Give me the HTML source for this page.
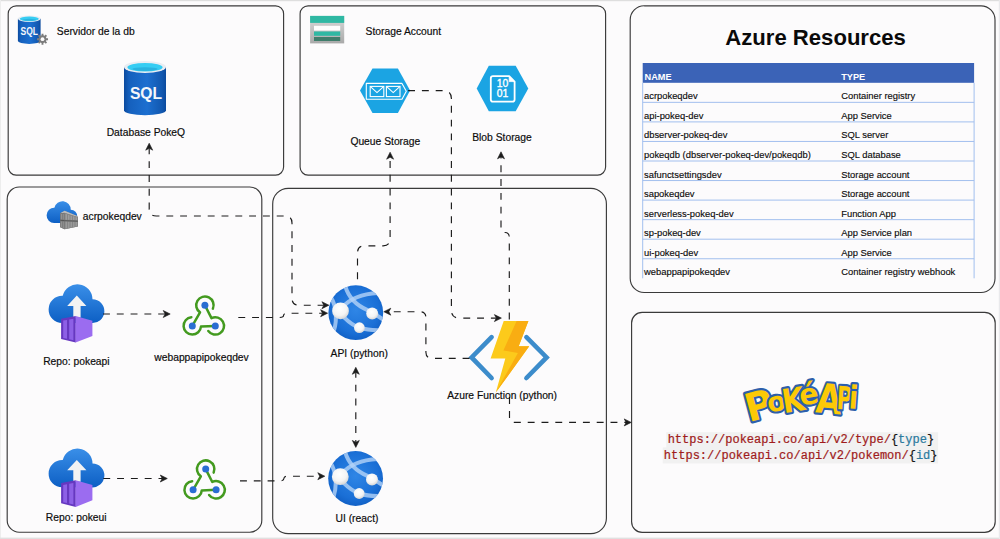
<!DOCTYPE html>
<html lang="es"><head><meta charset="utf-8"><title>PokeQ - Azure Resources</title>
<style>
html,body{margin:0;padding:0;background:#fcfbfc;}
body{width:1000px;height:539px;overflow:hidden;position:relative;}
svg{position:absolute;left:0;top:0;display:block;font-family:"Liberation Sans", sans-serif;}
.mono{font-family:"Liberation Mono", "DejaVu Sans Mono", monospace;}
</style></head><body>
<svg width="1000" height="539" viewBox="0 0 1000 539">
<defs>
<linearGradient id="gSql" x1="0" y1="0" x2="1" y2="0"><stop offset="0" stop-color="#0b4a9e"/><stop offset="0.12" stop-color="#1560bd"/><stop offset="0.55" stop-color="#1c6fd0"/><stop offset="0.9" stop-color="#1258b0"/><stop offset="1" stop-color="#0b4a9e"/></linearGradient>
<linearGradient id="gCloud" x1="0" y1="0" x2="0" y2="1"><stop offset="0" stop-color="#3a8fe8"/><stop offset="1" stop-color="#0d5fc4"/></linearGradient>
<radialGradient id="gGlobe" cx="0.5" cy="0.45" r="0.6"><stop offset="0" stop-color="#2f86e6"/><stop offset="0.7" stop-color="#1a6fd6"/><stop offset="1" stop-color="#0f5cc0"/></radialGradient>
<radialGradient id="gBall" cx="0.45" cy="0.35" r="0.7"><stop offset="0" stop-color="#ffffff"/><stop offset="0.6" stop-color="#f4f4f4"/><stop offset="1" stop-color="#cfcfcf"/></radialGradient>
<linearGradient id="gStore" x1="0" y1="0" x2="0" y2="1"><stop offset="0" stop-color="#d9d9d9"/><stop offset="1" stop-color="#a9a9a9"/></linearGradient>
<linearGradient id="gBolt" x1="0" y1="0" x2="0" y2="1"><stop offset="0" stop-color="#fdd31d"/><stop offset="1" stop-color="#fbb814"/></linearGradient>
</defs>
<rect x="0" y="0" width="1000" height="539" fill="#fcfbfc"/>
<rect x="0" y="0" width="1000" height="1.2" fill="#dedede"/>
<rect x="0" y="0" width="1" height="539" fill="#ededed"/>
<rect x="0" y="537.6" width="1000" height="1.4" fill="#e0e0e0"/>
<rect x="998.8" y="0" width="1.2" height="539" fill="#e9e9ec"/>
<rect x="8.2" y="5.8" width="275.40" height="169.30" rx="8" ry="8" fill="none" stroke="#3a3a3a" stroke-width="1.15"/>
<rect x="300.1" y="5.8" width="305.50" height="169.30" rx="8" ry="8" fill="none" stroke="#3a3a3a" stroke-width="1.15"/>
<rect x="630.2" y="5.8" width="364.80" height="286.70" rx="14" ry="14" fill="none" stroke="#3a3a3a" stroke-width="1.15"/>
<rect x="7.2" y="187.0" width="254.60" height="345.20" rx="12" ry="12" fill="none" stroke="#3a3a3a" stroke-width="1.15"/>
<rect x="272.7" y="188.4" width="333.70" height="345.30" rx="15.5" ry="15.5" fill="none" stroke="#3a3a3a" stroke-width="1.15"/>
<rect x="631.6" y="312.4" width="363.60" height="219.90" rx="10.5" ry="10.5" fill="none" stroke="#3a3a3a" stroke-width="1.15"/>
<path d="M17.90,18.70 L17.90,41.09 A11.35,2.80 0 0 0 40.60,41.09 L40.60,18.70 Z" fill="url(#gSql)"/>
<ellipse cx="29.25" cy="18.70" rx="11.35" ry="3.30" fill="#e9edf2"/>
<ellipse cx="29.25" cy="18.87" rx="9.53" ry="2.38" fill="#36cdf3"/>
<ellipse cx="29.25" cy="19.86" rx="6.81" ry="0.99" fill="#1f9fd0" opacity="0.55"/>
<text x="20.50" y="35.00" font-size="10.0" font-weight="bold" fill="#f4f6fa" textLength="17.50" lengthAdjust="spacingAndGlyphs">SQL</text>
<path d="M48.02,38.24 L48.02,40.16 L46.39,40.13 L45.91,41.29 L47.08,42.42 L45.72,43.78 L44.59,42.61 L43.43,43.09 L43.46,44.72 L41.54,44.72 L41.57,43.09 L40.41,42.61 L39.28,43.78 L37.92,42.42 L39.09,41.29 L38.61,40.13 L36.98,40.16 L36.98,38.24 L38.61,38.27 L39.09,37.11 L37.92,35.98 L39.28,34.62 L40.41,35.79 L41.57,35.31 L41.54,33.68 L43.46,33.68 L43.43,35.31 L44.59,35.79 L45.72,34.62 L47.08,35.98 L45.91,37.11 L46.39,38.27 Z" fill="#7c7c7c"/>
<circle cx="42.5" cy="39.2" r="1.9" fill="#fcfbfc"/>
<path d="M124.00,67.00 L124.00,110.20 A21.00,5.10 0 0 0 166.00,110.20 L166.00,67.00 Z" fill="url(#gSql)"/>
<ellipse cx="145.00" cy="67.00" rx="21.00" ry="6.00" fill="#e9edf2"/>
<ellipse cx="145.00" cy="67.30" rx="17.64" ry="4.32" fill="#36cdf3"/>
<ellipse cx="145.00" cy="69.10" rx="12.60" ry="1.80" fill="#1f9fd0" opacity="0.55"/>
<text x="129.90" y="98.70" font-size="17.4" font-weight="bold" fill="#f4f6fa" textLength="32.20" lengthAdjust="spacingAndGlyphs">SQL</text>
<rect x="310.1" y="15.9" width="34.1" height="27.5" fill="url(#gStore)"/>
<rect x="310.1" y="15.9" width="34.1" height="7.0" fill="#2fb8a3"/>
<rect x="314" y="25.8" width="26.2" height="4.8" fill="#fdfdfd"/>
<rect x="314" y="31.5" width="26.2" height="4.3" fill="#2fb8a3"/>
<rect x="314" y="37.0" width="26.2" height="4.0" fill="#3f7d6b"/>
<path d="M360,90.6 L372.5,68.4 L397.9,68.4 L410.1,90.6 L397.9,112.9 L372.5,112.9 Z" fill="#1ba4e3"/>
<path d="M366.3,83.4 H402 L406.3,91.3 L402,99.3 H366.3 Z" fill="none" stroke="#fff" stroke-width="1.1" stroke-linejoin="round"/>
<rect x="370.2" y="86.4" width="13.6" height="10.2" fill="none" stroke="#fff" stroke-width="1.1"/>
<path d="M370.2,86.4 L377.0,92.6 L383.8,86.4" fill="none" stroke="#fff" stroke-width="1.1"/>
<rect x="386.4" y="86.4" width="13.6" height="10.2" fill="none" stroke="#fff" stroke-width="1.1"/>
<path d="M386.4,86.4 L393.2,92.6 L400.0,86.4" fill="none" stroke="#fff" stroke-width="1.1"/>
<path d="M476.7,88.5 L488.8,65.8 L515.7,65.8 L528.3,88.5 L515.7,111.2 L488.8,111.2 Z" fill="#1ba4e3"/>
<path d="M493,76.2 H509.2 L514.6,81.6 V99.4 Q514.6,101.6 512.4,101.6 H493 Q490.8,101.6 490.8,99.4 V78.4 Q490.8,76.2 493,76.2 Z" fill="none" stroke="#fff" stroke-width="1.8" stroke-linejoin="round"/>
<path d="M509.2,76.2 V81.6 H514.6 Z" fill="#fff" stroke="#fff" stroke-width="0.8" stroke-linejoin="round"/>
<text x="502.6" y="87.3" font-size="10.4" fill="#fff" stroke="#fff" stroke-width="0.35" text-anchor="middle">10</text>
<text x="502.6" y="97.3" font-size="10.4" fill="#fff" stroke="#fff" stroke-width="0.35" text-anchor="middle">01</text>
<g transform="translate(46.60,201.20) scale(0.5505,0.5659) translate(-48.6,-284.3)" fill="url(#gCloud)">
<path d="M62.2,323.0 A13.6,13.6 0 1 1 62.73,295.81 A15.1,15.1 0 0 1 92.50,299.27 A11.9,11.9 0 1 1 91.2,323.0 Z"/>
</g>
<path d="M60.2,213.2 L64.6,210.7 L77.9,216.3 L77.9,226.5 L64.6,229.2 L60.2,227.3 Z" fill="#808080"/>
<path d="M60.2,213.2 L64.6,210.7 L77.9,216.3 L77.9,217.2 L64.6,212.9 Z" fill="#bdbdbd"/>
<path d="M64.6,212.7 L77.9,217.0 L77.9,226.5 L64.6,229.2 Z" fill="#858585"/>
<path d="M60.2,213.2 L64.6,212.7 L64.6,229.2 L60.2,227.3 Z" fill="#787878"/>
<path d="M65.6,213.92 L66.89999999999999,214.34 L66.89999999999999,219.74 L65.6,219.74 Z" fill="#a0a0a0"/>
<path d="M65.6,221.54 L66.89999999999999,221.54 L66.89999999999999,228.14 L65.6,228.40 Z" fill="#9c9c9c"/>
<path d="M68.1,214.72 L69.39999999999999,215.14 L69.39999999999999,219.84 L68.1,219.84 Z" fill="#a0a0a0"/>
<path d="M68.1,221.64 L69.39999999999999,221.64 L69.39999999999999,227.64 L68.1,227.90 Z" fill="#9c9c9c"/>
<path d="M70.6,215.52 L71.89999999999999,215.94 L71.89999999999999,219.94 L70.6,219.94 Z" fill="#a0a0a0"/>
<path d="M70.6,221.74 L71.89999999999999,221.74 L71.89999999999999,227.14 L70.6,227.40 Z" fill="#9c9c9c"/>
<path d="M73.1,216.32 L74.39999999999999,216.74 L74.39999999999999,220.04 L73.1,220.04 Z" fill="#a0a0a0"/>
<path d="M73.1,221.84 L74.39999999999999,221.84 L74.39999999999999,226.64 L73.1,226.90 Z" fill="#9c9c9c"/>
<path d="M75.6,217.12 L76.89999999999999,217.54 L76.89999999999999,220.14 L75.6,220.14 Z" fill="#a0a0a0"/>
<path d="M75.6,221.94 L76.89999999999999,221.94 L76.89999999999999,226.14 L75.6,226.40 Z" fill="#9c9c9c"/>
<path d="M61.0,214.0 L61.9,213.9 L61.9,219.6 L61.0,219.5 Z M61.0,221.4 L61.9,221.5 L61.9,227.74 L61.0,227.34 Z" fill="#959595"/>
<path d="M62.8,214.0 L63.699999999999996,213.9 L63.699999999999996,219.6 L62.8,219.5 Z M62.8,221.4 L63.699999999999996,221.5 L63.699999999999996,228.52 L62.8,228.12 Z" fill="#959595"/>
<path d="M60.2,220.2 L64.6,220.7 L77.9,221.2" fill="none" stroke="#4f4f4f" stroke-width="0.9"/>
<g transform="translate(0,0)">
<g transform="translate(48.60,284.30) scale(1.0000,1.0000) translate(-48.6,-284.3)" fill="url(#gCloud)">
<path d="M62.2,323.0 A13.6,13.6 0 1 1 62.73,295.81 A15.1,15.1 0 0 1 92.50,299.27 A11.9,11.9 0 1 1 91.2,323.0 Z"/>
</g>
<path d="M76.8,295.6 L86.4,306.0 L80.6,306.0 L80.6,317.5 L73.3,317.5 L73.3,306.0 L67.2,306.0 Z" fill="#f3f3f3"/>
<path d="M61.1,318.7 L75.8,316.0 L75.8,342.6 L61.1,339.0 Z" fill="#6638c0"/>
<path d="M75.6,316.0 L92.4,320.8 L92.4,336.0 L75.6,342.6 Z" fill="#9b6cf0"/>
<path d="M63.2,320.6 L67.0,319.9 L67.0,338.8 L63.2,338.0 Z" fill="#8d60e6"/>
<path d="M69.2,319.5 L73.4,318.7 L73.4,340.2 L69.2,339.3 Z" fill="#8d60e6"/>
</g>
<g transform="translate(0,164.3)">
<g transform="translate(48.60,284.30) scale(1.0000,1.0000) translate(-48.6,-284.3)" fill="url(#gCloud)">
<path d="M62.2,323.0 A13.6,13.6 0 1 1 62.73,295.81 A15.1,15.1 0 0 1 92.50,299.27 A11.9,11.9 0 1 1 91.2,323.0 Z"/>
</g>
<path d="M76.8,295.6 L86.4,306.0 L80.6,306.0 L80.6,317.5 L73.3,317.5 L73.3,306.0 L67.2,306.0 Z" fill="#f3f3f3"/>
<path d="M61.1,318.7 L75.8,316.0 L75.8,342.6 L61.1,339.0 Z" fill="#6638c0"/>
<path d="M75.6,316.0 L92.4,320.8 L92.4,336.0 L75.6,342.6 Z" fill="#9b6cf0"/>
<path d="M63.2,320.6 L67.0,319.9 L67.0,338.8 L63.2,338.0 Z" fill="#8d60e6"/>
<path d="M69.2,319.5 L73.4,318.7 L73.4,340.2 L69.2,339.3 Z" fill="#8d60e6"/>
</g>
<g transform="translate(0.0,0)" fill="none" stroke="#439a1f" stroke-width="2.5" stroke-linecap="round" stroke-linejoin="round">
<path d="M192.30,325.90 L200.04,312.41 A8.7,8.7 0 1 1 212.87,308.68"/>
<path d="M204.90,305.20 L211.49,318.08 A8.7,8.7 0 1 1 208.30,331.06"/>
<path d="M215.30,325.90 L200.98,326.51 A8.7,8.7 0 1 1 191.33,317.25"/>
</g>
<g transform="translate(0.0,0)" fill="#2a6dd2">
<circle cx="204.9" cy="305.2" r="3.5"/>
<circle cx="192.3" cy="325.9" r="3.5"/>
<circle cx="215.3" cy="325.9" r="3.5"/>
</g>
<g transform="translate(0.8,163.9)" fill="none" stroke="#439a1f" stroke-width="2.5" stroke-linecap="round" stroke-linejoin="round">
<path d="M192.30,325.90 L200.04,312.41 A8.7,8.7 0 1 1 212.87,308.68"/>
<path d="M204.90,305.20 L211.49,318.08 A8.7,8.7 0 1 1 208.30,331.06"/>
<path d="M215.30,325.90 L200.98,326.51 A8.7,8.7 0 1 1 191.33,317.25"/>
</g>
<g transform="translate(0.8,163.9)" fill="#2a6dd2">
<circle cx="204.9" cy="305.2" r="3.5"/>
<circle cx="192.3" cy="325.9" r="3.5"/>
<circle cx="215.3" cy="325.9" r="3.5"/>
</g>
<g transform="translate(-0.20,0.10)">
<clipPath id="clipA"><circle cx="356" cy="312.6" r="27.4"/></clipPath>
<circle cx="356" cy="312.6" r="27.4" fill="url(#gGlobe)"/>
<g clip-path="url(#clipA)" fill="none" stroke="#b4d3f7" stroke-opacity="0.8" stroke-width="4.0" stroke-linecap="round">
<path d="M345.6,286.5 C348.5,296 356,305 367.8,310 C373,312.5 379,316.5 384,320"/>
<path d="M343,307 C350,299 361,294 378,293"/>
<path d="M331,297 C336,305 338,318 334,331"/>
<path d="M344,317 C350,323 356,326.5 360,327.6 C367,330 375,330.5 383,330"/>
</g>
<circle cx="340.7" cy="310.8" r="8.4" fill="url(#gBall)"/>
<circle cx="372.4" cy="313.5" r="6.0" fill="url(#gBall)"/>
<circle cx="359.6" cy="327.6" r="5.4" fill="url(#gBall)"/>
</g>
<g transform="translate(-0.40,165.90)">
<clipPath id="clipB"><circle cx="356" cy="312.6" r="27.4"/></clipPath>
<circle cx="356" cy="312.6" r="27.4" fill="url(#gGlobe)"/>
<g clip-path="url(#clipB)" fill="none" stroke="#b4d3f7" stroke-opacity="0.8" stroke-width="4.0" stroke-linecap="round">
<path d="M345.6,286.5 C348.5,296 356,305 367.8,310 C373,312.5 379,316.5 384,320"/>
<path d="M343,307 C350,299 361,294 378,293"/>
<path d="M331,297 C336,305 338,318 334,331"/>
<path d="M344,317 C350,323 356,326.5 360,327.6 C367,330 375,330.5 383,330"/>
</g>
<circle cx="340.7" cy="310.8" r="8.4" fill="url(#gBall)"/>
<circle cx="372.4" cy="313.5" r="6.0" fill="url(#gBall)"/>
<circle cx="359.6" cy="327.6" r="5.4" fill="url(#gBall)"/>
</g>
<g fill="none" stroke="#3c8ccb" stroke-width="4.6" stroke-linecap="round" stroke-linejoin="miter">
<path d="M491.6,337.2 L471.6,357.4 L491.6,378.0"/>
<path d="M526.4,337.2 L546.6,357.4 L526.4,378.0"/>
</g>
<path d="M503.7,321 L528.4,321 L518.7,346.3 L529.2,346.3 L495.8,392.6 L505.3,358.6 L490.6,358.6 Z" fill="#fcca1b"/>
<path d="M516.6,321 L528.4,321 L518.7,346.3 L529.2,346.3 L495.8,392.6 L517.9,352.9 L503.4,350.5 Z" fill="#f9ad12"/>
<path d="M149.20,143.20 L152.70,150.20 L149.20,148.30 L145.70,150.20 Z" fill="#1c1c1c" stroke="#1c1c1c" stroke-width="0.6" stroke-linejoin="miter"/>
<path d="M328.90,305.20 L321.90,308.70 L323.80,305.20 L321.90,301.70 Z" fill="#1c1c1c" stroke="#1c1c1c" stroke-width="0.6" stroke-linejoin="miter"/>
<path d="M149.20,148.20 L149.20,209.00 Q149.20,216.00 156.20,216.00 L285.00,216.00 Q292.00,216.00 292.00,223.00 L292.00,298.20 Q292.00,305.20 299.00,305.20 L323.90,305.20" fill="none" stroke="#1c1c1c" stroke-width="1.15" stroke-dasharray="6.9 6.9" stroke-dashoffset="-13.0"/>
<path d="M327.60,313.20 L320.60,316.70 L322.50,313.20 L320.60,309.70 Z" fill="#1c1c1c" stroke="#1c1c1c" stroke-width="0.6" stroke-linejoin="miter"/>
<path d="M238.30,317.50 L279.60,317.50 Q283.60,317.50 283.60,315.35 L283.60,315.35 Q283.60,313.20 287.60,313.20 L322.60,313.20" fill="none" stroke="#1c1c1c" stroke-width="1.15" stroke-dasharray="6.9 6.9" stroke-dashoffset="0"/>
<path d="M390.10,152.20 L393.60,159.20 L390.10,157.30 L386.60,159.20 Z" fill="#1c1c1c" stroke="#1c1c1c" stroke-width="0.6" stroke-linejoin="miter"/>
<path d="M357.50,285.40 L357.50,252.80 Q357.50,245.80 364.50,245.80 L383.10,245.80 Q390.10,245.80 390.10,238.80 L390.10,157.20" fill="none" stroke="#1c1c1c" stroke-width="1.15" stroke-dasharray="6.9 6.9" stroke-dashoffset="-6.22"/>
<path d="M501.40,318.10 L494.40,321.60 L496.30,318.10 L494.40,314.60 Z" fill="#1c1c1c" stroke="#1c1c1c" stroke-width="0.6" stroke-linejoin="miter"/>
<path d="M408.10,90.60 L443.40,90.60 Q451.40,90.60 451.40,98.60 L451.40,310.10 Q451.40,318.10 459.40,318.10 L496.40,318.10" fill="none" stroke="#1c1c1c" stroke-width="1.15" stroke-dasharray="6.9 6.9" stroke-dashoffset="0"/>
<path d="M501.00,151.80 L504.50,158.80 L501.00,156.90 L497.50,158.80 Z" fill="#1c1c1c" stroke="#1c1c1c" stroke-width="0.6" stroke-linejoin="miter"/>
<path d="M509.30,320.50 L509.30,237.50 Q509.30,232.50 505.15,232.50 L505.15,232.50 Q501.00,232.50 501.00,227.50 L501.00,156.80" fill="none" stroke="#1c1c1c" stroke-width="1.15" stroke-dasharray="6.9 6.9" stroke-dashoffset="-0.98"/>
<path d="M383.80,311.70 L390.80,308.20 L388.90,311.70 L390.80,315.20 Z" fill="#1c1c1c" stroke="#1c1c1c" stroke-width="0.6" stroke-linejoin="miter"/>
<path d="M469.50,358.30 L431.90,358.30 Q425.90,358.30 425.90,352.30 L425.90,317.70 Q425.90,311.70 419.90,311.70 L388.80,311.70" fill="none" stroke="#1c1c1c" stroke-width="1.15" stroke-dasharray="6.9 6.9" stroke-dashoffset="0"/>
<path d="M355.80,367.30 L359.30,374.30 L355.80,372.40 L352.30,374.30 Z" fill="#1c1c1c" stroke="#1c1c1c" stroke-width="0.6" stroke-linejoin="miter"/>
<path d="M355.80,447.40 L352.30,440.40 L355.80,442.30 L359.30,440.40 Z" fill="#1c1c1c" stroke="#1c1c1c" stroke-width="0.6" stroke-linejoin="miter"/>
<path d="M355.80,372.30 L355.80,442.40" fill="none" stroke="#1c1c1c" stroke-width="1.15" stroke-dasharray="6.9 6.9" stroke-dashoffset="-12.4"/>
<path d="M631.20,422.40 L624.20,425.90 L626.10,422.40 L624.20,418.90 Z" fill="#1c1c1c" stroke="#1c1c1c" stroke-width="0.6" stroke-linejoin="miter"/>
<path d="M509.50,393.00 L509.50,417.40 Q509.50,422.40 514.50,422.40 L626.20,422.40" fill="none" stroke="#1c1c1c" stroke-width="1.15" stroke-dasharray="6.9 6.9" stroke-dashoffset="-4.12"/>
<path d="M170.20,314.00 L163.20,317.50 L165.10,314.00 L163.20,310.50 Z" fill="#1c1c1c" stroke="#1c1c1c" stroke-width="0.6" stroke-linejoin="miter"/>
<path d="M103.00,314.00 L165.20,314.00" fill="none" stroke="#1c1c1c" stroke-width="1.15" stroke-dasharray="6.9 6.9" stroke-dashoffset="0"/>
<path d="M167.30,478.50 L160.30,482.00 L162.20,478.50 L160.30,475.00 Z" fill="#1c1c1c" stroke="#1c1c1c" stroke-width="0.6" stroke-linejoin="miter"/>
<path d="M103.30,478.50 L162.30,478.50" fill="none" stroke="#1c1c1c" stroke-width="1.15" stroke-dasharray="6.9 6.9" stroke-dashoffset="0"/>
<path d="M324.80,476.20 L317.80,479.70 L319.70,476.20 L317.80,472.70 Z" fill="#1c1c1c" stroke="#1c1c1c" stroke-width="0.6" stroke-linejoin="miter"/>
<path d="M240.00,480.90 L279.90,480.90 Q283.90,480.90 283.90,478.55 L283.90,478.55 Q283.90,476.20 287.90,476.20 L319.80,476.20" fill="none" stroke="#1c1c1c" stroke-width="1.15" stroke-dasharray="6.9 6.9" stroke-dashoffset="0"/>
<text x="56.8" y="35.0" font-size="10.3" text-anchor="start" font-weight="normal" fill="#0c0c0c"  stroke="#0c0c0c" stroke-width="0.18">Servidor de la db</text>
<text x="145.9" y="135.6" font-size="10.3" text-anchor="middle" font-weight="normal" fill="#0c0c0c"  stroke="#0c0c0c" stroke-width="0.18">Database PokeQ</text>
<text x="365.6" y="35.2" font-size="10.3" text-anchor="start" font-weight="normal" fill="#0c0c0c"  stroke="#0c0c0c" stroke-width="0.18">Storage Account</text>
<text x="385.3" y="145.4" font-size="10.3" text-anchor="middle" font-weight="normal" fill="#0c0c0c"  stroke="#0c0c0c" stroke-width="0.18">Queue Storage</text>
<text x="502.0" y="140.9" font-size="10.3" text-anchor="middle" font-weight="normal" fill="#0c0c0c"  stroke="#0c0c0c" stroke-width="0.18">Blob Storage</text>
<text x="82.8" y="220.3" font-size="10.3" text-anchor="start" font-weight="normal" fill="#0c0c0c"  stroke="#0c0c0c" stroke-width="0.18">acrpokeqdev</text>
<text x="76.4" y="365.2" font-size="10.3" text-anchor="middle" font-weight="normal" fill="#0c0c0c"  stroke="#0c0c0c" stroke-width="0.18">Repo: pokeapi</text>
<text x="201.5" y="360.9" font-size="10.3" text-anchor="middle" font-weight="normal" fill="#0c0c0c"  stroke="#0c0c0c" stroke-width="0.18">webappapipokeqdev</text>
<text x="359.2" y="357.4" font-size="10.3" text-anchor="middle" font-weight="normal" fill="#0c0c0c"  stroke="#0c0c0c" stroke-width="0.18">API (python)</text>
<text x="502.1" y="399.2" font-size="10.3" text-anchor="middle" font-weight="normal" fill="#0c0c0c"  stroke="#0c0c0c" stroke-width="0.18">Azure Function (python)</text>
<text x="76.2" y="521.3" font-size="10.3" text-anchor="middle" font-weight="normal" fill="#0c0c0c"  stroke="#0c0c0c" stroke-width="0.18">Repo: pokeui</text>
<text x="357.0" y="521.7" font-size="10.3" text-anchor="middle" font-weight="normal" fill="#0c0c0c"  stroke="#0c0c0c" stroke-width="0.18">UI (react)</text>
<text x="815.6" y="45.2" font-size="22.1" text-anchor="middle" font-weight="bold" fill="#0a0a0a" >Azure Resources</text>
<rect x="642.7" y="63.0" width="331.40" height="19.80" fill="#3b63b7"/>
<text x="644.5" y="79.7" font-size="9.2" text-anchor="start" font-weight="bold" fill="#ffffff" >NAME</text>
<text x="841.2" y="79.7" font-size="9.2" text-anchor="start" font-weight="bold" fill="#ffffff" >TYPE</text>
<line x1="642.7" y1="102.35" x2="974.1" y2="102.35" stroke="#a2bfee" stroke-width="1"/>
<text x="644.0" y="99.35" font-size="9.4" text-anchor="start" font-weight="normal" fill="#0c0c0c"  stroke="#0c0c0c" stroke-width="0.14">acrpokeqdev</text>
<text x="841.2" y="99.35" font-size="9.4" text-anchor="start" font-weight="normal" fill="#0c0c0c"  stroke="#0c0c0c" stroke-width="0.14">Container registry</text>
<line x1="642.7" y1="121.90" x2="974.1" y2="121.90" stroke="#a2bfee" stroke-width="1"/>
<text x="644.0" y="118.9" font-size="9.4" text-anchor="start" font-weight="normal" fill="#0c0c0c"  stroke="#0c0c0c" stroke-width="0.14">api-pokeq-dev</text>
<text x="841.2" y="118.9" font-size="9.4" text-anchor="start" font-weight="normal" fill="#0c0c0c"  stroke="#0c0c0c" stroke-width="0.14">App Service</text>
<line x1="642.7" y1="141.45" x2="974.1" y2="141.45" stroke="#a2bfee" stroke-width="1"/>
<text x="644.0" y="138.45" font-size="9.4" text-anchor="start" font-weight="normal" fill="#0c0c0c"  stroke="#0c0c0c" stroke-width="0.14">dbserver-pokeq-dev</text>
<text x="841.2" y="138.45" font-size="9.4" text-anchor="start" font-weight="normal" fill="#0c0c0c"  stroke="#0c0c0c" stroke-width="0.14">SQL server</text>
<line x1="642.7" y1="161.00" x2="974.1" y2="161.00" stroke="#a2bfee" stroke-width="1"/>
<text x="644.0" y="158.0" font-size="9.4" text-anchor="start" font-weight="normal" fill="#0c0c0c"  stroke="#0c0c0c" stroke-width="0.14">pokeqdb (dbserver-pokeq-dev/pokeqdb)</text>
<text x="841.2" y="158.0" font-size="9.4" text-anchor="start" font-weight="normal" fill="#0c0c0c"  stroke="#0c0c0c" stroke-width="0.14">SQL database</text>
<line x1="642.7" y1="180.55" x2="974.1" y2="180.55" stroke="#a2bfee" stroke-width="1"/>
<text x="644.0" y="177.55" font-size="9.4" text-anchor="start" font-weight="normal" fill="#0c0c0c"  stroke="#0c0c0c" stroke-width="0.14">safunctsettingsdev</text>
<text x="841.2" y="177.55" font-size="9.4" text-anchor="start" font-weight="normal" fill="#0c0c0c"  stroke="#0c0c0c" stroke-width="0.14">Storage account</text>
<line x1="642.7" y1="200.10" x2="974.1" y2="200.10" stroke="#a2bfee" stroke-width="1"/>
<text x="644.0" y="197.1" font-size="9.4" text-anchor="start" font-weight="normal" fill="#0c0c0c"  stroke="#0c0c0c" stroke-width="0.14">sapokeqdev</text>
<text x="841.2" y="197.1" font-size="9.4" text-anchor="start" font-weight="normal" fill="#0c0c0c"  stroke="#0c0c0c" stroke-width="0.14">Storage account</text>
<line x1="642.7" y1="219.65" x2="974.1" y2="219.65" stroke="#a2bfee" stroke-width="1"/>
<text x="644.0" y="216.65" font-size="9.4" text-anchor="start" font-weight="normal" fill="#0c0c0c"  stroke="#0c0c0c" stroke-width="0.14">serverless-pokeq-dev</text>
<text x="841.2" y="216.65" font-size="9.4" text-anchor="start" font-weight="normal" fill="#0c0c0c"  stroke="#0c0c0c" stroke-width="0.14">Function App</text>
<line x1="642.7" y1="239.20" x2="974.1" y2="239.20" stroke="#a2bfee" stroke-width="1"/>
<text x="644.0" y="236.2" font-size="9.4" text-anchor="start" font-weight="normal" fill="#0c0c0c"  stroke="#0c0c0c" stroke-width="0.14">sp-pokeq-dev</text>
<text x="841.2" y="236.2" font-size="9.4" text-anchor="start" font-weight="normal" fill="#0c0c0c"  stroke="#0c0c0c" stroke-width="0.14">App Service plan</text>
<line x1="642.7" y1="258.75" x2="974.1" y2="258.75" stroke="#a2bfee" stroke-width="1"/>
<text x="644.0" y="255.75" font-size="9.4" text-anchor="start" font-weight="normal" fill="#0c0c0c"  stroke="#0c0c0c" stroke-width="0.14">ui-pokeq-dev</text>
<text x="841.2" y="255.75" font-size="9.4" text-anchor="start" font-weight="normal" fill="#0c0c0c"  stroke="#0c0c0c" stroke-width="0.14">App Service</text>
<text x="644.0" y="275.3" font-size="9.4" text-anchor="start" font-weight="normal" fill="#0c0c0c"  stroke="#0c0c0c" stroke-width="0.14">webappapipokeqdev</text>
<text x="841.2" y="275.3" font-size="9.4" text-anchor="start" font-weight="normal" fill="#0c0c0c"  stroke="#0c0c0c" stroke-width="0.14">Container registry webhook</text>
<line x1="642.7" y1="82.8" x2="642.7" y2="278.30" stroke="#a2bfee" stroke-width="1"/>
<line x1="974.1" y1="82.8" x2="974.1" y2="278.30" stroke="#a2bfee" stroke-width="1"/>
<text transform="translate(762.5,418.5) rotate(-15) scale(0.98,1.0)" font-family='"DejaVu Sans", "Liberation Sans", sans-serif' font-size="39" font-weight="bold" text-anchor="middle" fill="#fcc906" stroke="#2d5fab" stroke-width="4.3" stroke-linejoin="round" paint-order="stroke fill" style="paint-order:stroke fill">P</text>
<text transform="translate(777.8,411.0) rotate(-8) scale(1.0,1.0)" font-family='"DejaVu Sans", "Liberation Sans", sans-serif' font-size="27" font-weight="bold" text-anchor="middle" fill="#fcc906" stroke="#2d5fab" stroke-width="4.3" stroke-linejoin="round" paint-order="stroke fill" style="paint-order:stroke fill">o</text>
<text transform="translate(795.0,411.5) rotate(-9) scale(0.88,1.0)" font-family='"DejaVu Sans", "Liberation Sans", sans-serif' font-size="33" font-weight="bold" text-anchor="middle" fill="#fcc906" stroke="#2d5fab" stroke-width="4.3" stroke-linejoin="round" paint-order="stroke fill" style="paint-order:stroke fill">K</text>
<text transform="translate(810.5,404.0) rotate(-10) scale(0.98,1.0)" font-family='"DejaVu Sans", "Liberation Sans", sans-serif' font-size="29" font-weight="bold" text-anchor="middle" fill="#fcc906" stroke="#2d5fab" stroke-width="4.3" stroke-linejoin="round" paint-order="stroke fill" style="paint-order:stroke fill">é</text>
<text transform="translate(828.0,413.5) rotate(5) scale(0.82,1.0)" font-family='"DejaVu Sans", "Liberation Sans", sans-serif' font-size="41" font-weight="bold" text-anchor="middle" fill="#fcc906" stroke="#2d5fab" stroke-width="4.3" stroke-linejoin="round" paint-order="stroke fill" style="paint-order:stroke fill">A</text>
<text transform="translate(844.0,409.5) rotate(3) scale(0.66,1.0)" font-family='"DejaVu Sans", "Liberation Sans", sans-serif' font-size="32" font-weight="bold" text-anchor="middle" fill="#fcc906" stroke="#2d5fab" stroke-width="4.3" stroke-linejoin="round" paint-order="stroke fill" style="paint-order:stroke fill">P</text>
<text transform="translate(853.0,408.5) rotate(4) scale(0.85,1.0)" font-family='"DejaVu Sans", "Liberation Sans", sans-serif' font-size="32" font-weight="bold" text-anchor="middle" fill="#fcc906" stroke="#2d5fab" stroke-width="4.3" stroke-linejoin="round" paint-order="stroke fill" style="paint-order:stroke fill">i</text>
<rect x="666.3" y="432.2" width="271.8" height="16" fill="#f1f1f1"/>
<rect x="662.8" y="447.4" width="275.3" height="16" fill="#f1f1f1"/>
<text class="mono" x="800.9" y="443.4" font-size="12" text-anchor="middle" fill="#a01c1c" stroke="#a01c1c" stroke-width="0.22">https://pokeapi.co/api/v2/type/<tspan fill="#161616" stroke="#161616">{</tspan><tspan fill="#2b7a9e" stroke="#2b7a9e">type</tspan><tspan fill="#161616" stroke="#161616">}</tspan></text>
<text class="mono" x="800.7" y="459.4" font-size="12" text-anchor="middle" fill="#a01c1c" stroke="#a01c1c" stroke-width="0.22">https://pokeapi.co/api/v2/pokemon/<tspan fill="#161616" stroke="#161616">{</tspan><tspan fill="#2b7a9e" stroke="#2b7a9e">id</tspan><tspan fill="#161616" stroke="#161616">}</tspan></text>
</svg>
</body></html>
